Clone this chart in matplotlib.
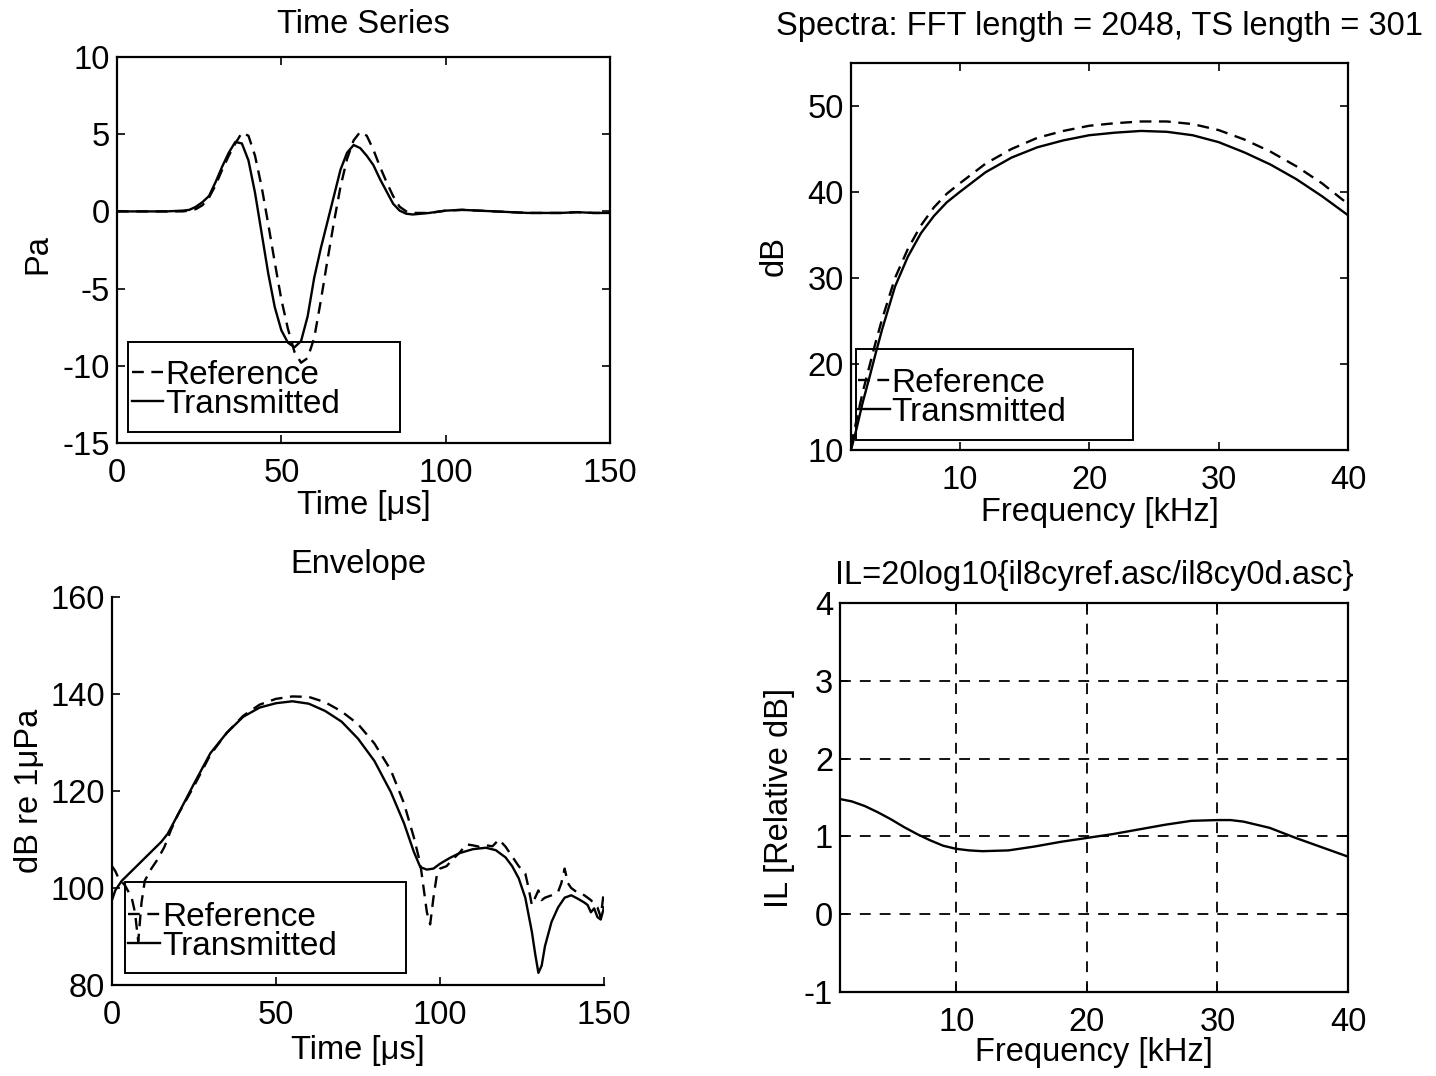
import matplotlib
matplotlib.use("Agg")
import matplotlib.pyplot as plt
from matplotlib.patches import Rectangle

plt.rcParams['font.family'] = ['Liberation Sans', 'DejaVu Sans']
plt.rcParams['font.size'] = 23.5
plt.rcParams['axes.unicode_minus'] = False

# ---- Time series (Pa vs us)
ts_time = [0, 5, 10, 15, 20, 22, 24, 26, 28, 30, 32, 34, 36, 38, 40, 42, 44, 46, 48, 50,
           52, 54, 56, 58, 60, 62, 64, 66, 68, 70, 72, 74, 76, 78, 80, 82, 84, 86, 88, 90,
           95, 100, 105, 110, 115, 120, 125, 130, 135, 140, 145, 150]
ts_ref = [0, 0, 0, 0, 0, 0.05, 0.15, 0.4, 0.9, 1.7, 2.7, 3.6, 4.4, 5.1, 4.9, 3.6, 1.6, -0.8, -3.3, -5.7,
          -7.6, -9.1, -9.8, -9.5, -8.2, -5.8, -3.2, -0.7, 1.6, 3.4, 4.6, 5.15, 4.9, 4.0, 2.9, 1.9, 1.0, 0.3, 0.0, -0.1,
          -0.1, 0.05, 0.1, 0.05, 0.0, -0.05, -0.1, -0.1, -0.1, -0.05, -0.1, -0.1]
ts_trans = [0, 0, 0, 0, 0.05, 0.1, 0.3, 0.6, 1.0, 1.9, 2.9, 3.8, 4.5, 4.4, 3.3, 1.2, -1.4, -4.0, -6.2, -7.7,
            -8.5, -8.8, -8.4, -6.8, -4.3, -2.4, -0.7, 1.0, 2.7, 3.8, 4.3, 4.1, 3.6, 3.0, 2.1, 1.3, 0.5, 0.05, -0.15, -0.2,
            -0.1, 0.05, 0.1, 0.05, 0.0, -0.05, -0.1, -0.1, -0.1, -0.05, -0.1, -0.1]

# ---- Spectra (dB vs kHz)
sp_freq = [1.6, 2.0, 2.5, 3.0, 3.5, 4, 5, 6, 7, 8, 9, 10, 12, 14, 16, 18, 20, 22, 24, 26,
           28, 30, 32, 34, 36, 38, 40]
sp_ref = [10.5, 13.3, 16.7, 19.6, 22.5, 25.2, 30.0, 33.4, 36.1, 38.2, 39.8, 41.0, 43.3, 45.0, 46.3, 47.1, 47.7, 48.0, 48.2, 48.2,
          47.9, 47.2, 46.1, 44.7, 43.0, 41.0, 38.6]
sp_trans = [10.0, 12.3, 15.5, 18.3, 21.2, 24.0, 29.0, 32.5, 35.2, 37.2, 38.8, 40.0, 42.3, 44.0, 45.2, 46.0, 46.6, 46.9, 47.1, 47.0,
            46.6, 45.8, 44.6, 43.2, 41.5, 39.5, 37.3]

# ---- Envelope (dB re 1uPa vs us)
env_t_ref = [0, 1, 2, 4, 6, 7, 8, 9, 10, 12, 14, 16, 18, 20, 25, 30, 35, 40, 45, 50,
             55, 60, 65, 70, 75, 80, 85, 89, 92, 94, 95, 96, 97, 98, 99, 100, 102, 104, 106, 108,
             110, 112, 114, 116, 118, 120, 122, 124, 126, 127, 128, 129, 130, 131, 132, 134, 136, 137, 138, 139,
             140, 142, 144, 146, 148, 149, 150]
env_ref = [104.5, 103.5, 102, 100.5, 98, 95, 89, 97, 101.5, 104, 106, 108.5, 112, 115, 121, 127.5, 132, 135.5, 137.8, 139,
           139.5, 139.4, 138.3, 136.4, 133.8, 129.8, 124.3, 117.5, 110.5, 105, 100, 95, 92.5, 98, 102.5, 104, 104.5, 106, 107.3, 109,
           108.8, 108.5, 108.8, 108.6, 110, 108.5, 106.5, 104.5, 103, 100, 96.5, 98, 99.5, 97.5, 98, 98.5, 99.2, 101, 104, 101,
           100, 99, 98.5, 97.5, 96, 94, 99.5]
env_t_trans = [0, 1, 3, 6, 9, 12, 15, 17, 20, 25, 30, 35, 40, 45, 50, 55, 60, 65, 70, 75,
               80, 85, 89, 92, 94, 96, 98, 100, 103, 106, 110, 114, 117, 120, 122, 124, 126, 128, 129, 130,
               131, 132, 134, 136, 138, 140, 142, 144, 145, 146, 147, 148, 149, 150]
env_trans = [97.5, 99.5, 101.5, 103.5, 105.5, 107.5, 109.5, 111.2, 115, 121.5, 127.8, 132, 135.3, 137.2, 138.1, 138.5, 138.0, 136.5, 134.3, 130.8,
             126.2, 119.8, 113.4, 107.5, 104.3, 103.8, 104.0, 105.0, 106.2, 107.2, 108.0, 108.3, 107.8, 106.3, 104.5, 102, 98, 91, 86.5, 82.5,
             84, 88, 93, 96, 98, 98.5, 97.8, 97.0, 96.5, 95, 95.8, 94, 93.5, 96]

# ---- Insertion loss
il_freq = [1.1, 2, 3, 4, 5, 6, 7, 8, 9, 10, 11, 12, 14, 16, 18, 20, 22, 24, 26, 28,
           30, 31, 32, 34, 36, 38, 40]
il_vals = [1.48, 1.45, 1.39, 1.31, 1.22, 1.12, 1.03, 0.95, 0.88, 0.84, 0.82, 0.81, 0.82, 0.87, 0.93, 0.98, 1.03, 1.09, 1.15, 1.2,
           1.21, 1.21, 1.19, 1.11, 0.98, 0.86, 0.74]

W, H = 1436, 1076
LW = 1.7
DASH = (0, (5, 3.2))
FS = 23.5


def px_axes(left, top, right, bottom):
    return [left / W, 1 - bottom / H, (right - left) / W, (bottom - top) / H]


def style_axes(ax, box=True):
    for s in ax.spines.values():
        s.set_linewidth(1.6)
    if not box:
        ax.spines['top'].set_visible(False)
        ax.spines['right'].set_visible(False)
    ax.tick_params(direction='in', length=6, width=1.2, labelsize=FS,
                   top=box, right=box)
    ax.tick_params(axis='x', pad=11)
    ax.tick_params(axis='y', pad=5)


def add_legend(ax, box, anchor):
    h1, = ax.plot([], [], 'k', lw=LW, linestyle=DASH)
    h2, = ax.plot([], [], 'k', lw=LW)
    ax.legend([h1, h2], ['Reference', 'Transmitted'], loc='upper left',
              bbox_to_anchor=anchor, frameon=False, handlelength=0.95,
              handletextpad=0.06, borderpad=0, borderaxespad=0,
              labelspacing=-0.07, fontsize=24)
    x0, y0, x1, y1 = box
    ax.add_patch(Rectangle((x0, y0), x1 - x0, y1 - y0, transform=ax.transAxes,
                           fill=False, lw=1.4, ec='k', clip_on=False, zorder=1))


fig = plt.figure(figsize=(14.36, 10.76), dpi=100)

# Time series
ax1 = fig.add_axes(px_axes(117, 57, 610, 443))
ax1.plot(ts_time, ts_ref, 'k', lw=LW, linestyle=DASH)
ax1.plot(ts_time, ts_trans, 'k', lw=LW)
ax1.set_xlim(0, 150)
ax1.set_ylim(-15, 10)
ax1.set_xticks([0, 50, 100, 150])
ax1.set_yticks([-15, -10, -5, 0, 5, 10])
style_axes(ax1)
ax1.set_title('Time Series', fontsize=FS, pad=17)
ax1.set_xlabel('Time [\u03bcs]', fontsize=FS, va='center')
ax1.xaxis.set_label_coords(0.5, -0.163)
ax1.set_ylabel('Pa', fontsize=FS, va='center')
ax1.yaxis.set_label_coords(-0.16, 0.49)
add_legend(ax1, (0.022, 0.029, 0.574, 0.262), (0.030, 0.215))

# Spectra
ax2 = fig.add_axes(px_axes(851, 63, 1348, 450))
ax2.plot(sp_freq, sp_ref, 'k', lw=LW, linestyle=DASH)
ax2.plot(sp_freq, sp_trans, 'k', lw=LW)
ax2.set_xlim(1.6, 40)
ax2.set_ylim(10, 55)
ax2.set_xticks([10, 20, 30, 40])
ax2.set_yticks([10, 20, 30, 40, 50])
style_axes(ax2)
ax2.set_title('Spectra: FFT length = 2048, TS length = 301', fontsize=FS, pad=20)
ax2.set_xlabel('Frequency [kHz]', fontsize=FS, va='center')
ax2.xaxis.set_label_coords(0.5, -0.162)
ax2.set_ylabel('dB', fontsize=FS, va='center')
ax2.yaxis.set_label_coords(-0.155, 0.5)
add_legend(ax2, (0.010, 0.026, 0.567, 0.261), (0.014, 0.212))

# Envelope
ax3 = fig.add_axes(px_axes(112, 597, 604, 985))
ax3.plot(env_t_ref, env_ref, 'k', lw=LW, linestyle=DASH)
ax3.plot(env_t_trans, env_trans, 'k', lw=LW)
ax3.set_xlim(0, 150)
ax3.set_ylim(80, 160)
ax3.set_xticks([0, 50, 100, 150])
ax3.set_yticks([80, 100, 120, 140, 160])
style_axes(ax3, box=False)
ax3.set_title('Envelope', fontsize=FS, pad=17)
ax3.set_xlabel('Time [\u03bcs]', fontsize=FS, va='center')
ax3.xaxis.set_label_coords(0.5, -0.17)
ax3.set_ylabel('dB re 1\u03bcPa', fontsize=FS, va='center')
ax3.yaxis.set_label_coords(-0.168, 0.5)
add_legend(ax3, (0.026, 0.031, 0.598, 0.265), (0.033, 0.214))

# Insertion loss
ax4 = fig.add_axes(px_axes(840, 603, 1348, 992))
ax4.plot(il_freq, il_vals, 'k', lw=LW)
ax4.set_xlim(1.1, 40)
ax4.set_ylim(-1, 4)
ax4.set_xticks([10, 20, 30, 40])
ax4.set_yticks([-1, 0, 1, 2, 3, 4])
ax4.grid(True, color='k', linestyle=(0, (6, 5)), lw=1.3)
style_axes(ax4)
ax4.set_title('IL=20log10{il8cyref.asc/il8cy0d.asc}', fontsize=FS, pad=14)
ax4.set_xlabel('Frequency [kHz]', fontsize=FS, va='center')
ax4.xaxis.set_label_coords(0.5, -0.156)
ax4.set_ylabel('IL [Relative dB]', fontsize=FS, va='center')
ax4.yaxis.set_label_coords(-0.12, 0.5)

fig.savefig('out.png', dpi=100)
